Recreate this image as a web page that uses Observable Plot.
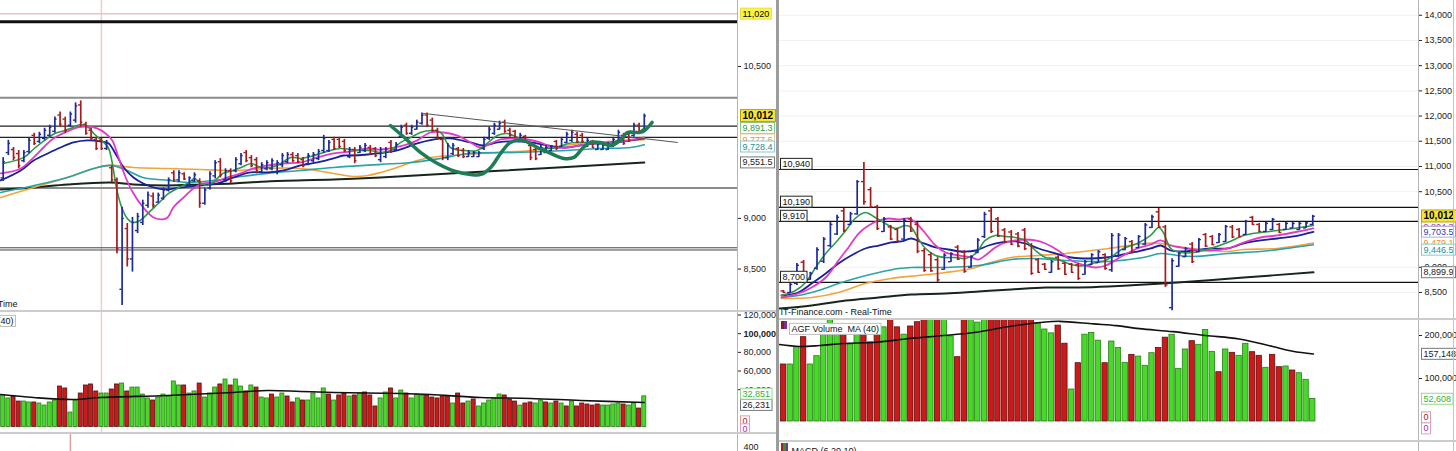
<!DOCTYPE html>
<html><head><meta charset="utf-8">
<script src="https://cdn.jsdelivr.net/npm/d3@7"></script>
<script src="https://cdn.jsdelivr.net/npm/@observablehq/plot@0.6"></script>
<style>
html,body{margin:0;padding:0;background:#fff;}
#root{position:relative;width:1456px;height:451px;overflow:hidden;background:#fff;font-family:"Liberation Sans",Arial,sans-serif;}
.panel{position:absolute;overflow:hidden;}
.panel svg{display:block;}
.ln{position:absolute;z-index:5;}
.icon{position:absolute;z-index:6;}
</style></head><body><div id="root"></div>
<script>
// ---------------- DATA ----------------
// Left chart (daily bars), index 1..125
const leftHigh = [9600,9770,9700,9670,9670,9790,9840,9850,9890,9920, 10000,10050,10000,10050,10140,10160,9950,9890,9800,9790, 9770,9520,9400,9110,8950,9010,9050,9180,9260,9250, 9250,9300,9400,9470,9470,9450,9410,9450,9390,9300, 9460,9570,9590,9490,9490,9600,9640,9670,9620,9600, 9550,9570,9590,9570,9640,9650,9650,9640,9600,9640, 9650,9680,9820,9770,9800,9800,9780,9700,9700,9720, 9740,9720,9700,9700,9700,9770,9750,9920,9940,9920, 9970,10040,10040,9990,9890,9800,9740,9740,9700,9690, 9670,9660,9660,9800,9900,9940,9960,9970,9890,9870, 9840,9820,9740,9700,9720,9720,9720,9770,9800,9850, 9870,9850,9840,9790,9770,9750,9740,9750,9800,9870, 9840,9850,9940,9940,10030];
const leftLow = [9365,9620,9570,9490,9550,9640,9720,9740,9770,9800, 9840,9900,9840,9900,9940,9900,9820,9770,9670,9670, 9670,9355,8650,8140,8520,8470,8850,8930,9100,9100, 9150,9180,9260,9355,9355,9375,9305,9355,9100,9130, 9280,9390,9400,9355,9345,9450,9520,9550,9500,9440, 9440,9470,9470,9430,9500,9540,9550,9540,9500,9520, 9550,9570,9640,9650,9670,9690,9650,9590,9540,9640, 9650,9620,9600,9550,9590,9640,9670,9790,9820,9820, 9870,9920,9900,9850,9770,9570,9570,9620,9600,9590, 9600,9600,9600,9670,9770,9820,9870,9840,9800,9790, 9750,9740,9570,9570,9620,9640,9660,9670,9700,9740, 9750,9740,9740,9700,9690,9670,9670,9670,9700,9740, 9720,9750,9800,9840,9850];
const leftOpen = [9400,9650,9680,9640,9570,9660,9820,9760,9790,9820, 9860,10020,9980,9920,9970,10120,9930,9870,9780,9770, 9690,9500,9380,8300,8900,8600,8880,8960,9130,9220, 9160,9200,9280,9450,9380,9440,9330,9370,9370,9150, 9300,9420,9560,9380,9470,9470,9540,9650,9600,9580, 9460,9490,9490,9460,9530,9560,9630,9620,9580,9540, 9570,9590,9670,9670,9780,9780,9760,9610,9680,9650, 9670,9700,9690,9580,9610,9750,9680,9810,9920,9840, 9880,9940,10020,9970,9870,9780,9600,9640,9690,9670, 9610,9610,9610,9690,9790,9840,9880,9950,9870,9860, 9760,9810,9720,9680,9630,9650,9670,9760,9710,9750, 9770,9830,9820,9710,9760,9680,9680,9680,9710,9760, 9820,9830,9820,9920,9870];
const leftClose = [9560,9740,9600,9520,9650,9770,9740,9830,9870,9900, 9980,9930,9870,10030,10110,9950,9840,9790,9690,9690, 9750,9380,8700,9000,8600,8960,9020,9150,9230,9130, 9230,9280,9380,9380,9450,9390,9400,9430,9150,9280, 9440,9550,9430,9470,9370,9580,9620,9570,9520,9470, 9530,9550,9570,9550,9620,9630,9570,9560,9520,9620, 9630,9660,9790,9750,9690,9710,9670,9680,9570,9700, 9720,9640,9620,9680,9680,9660,9730,9900,9840,9900, 9950,10020,9920,9870,9790,9600,9720,9720,9620,9610, 9650,9650,9650,9780,9880,9920,9940,9860,9820,9800, 9820,9760,9600,9590,9700,9700,9710,9690,9780,9830, 9850,9760,9760,9770,9700,9730,9720,9730,9780,9850, 9740,9770,9920,9860,10012];
const leftVol = [33800,30600,32700,27300,27300,26300,26300,25200,23000,26300, 28400,43400,41300,15500,28400,35900,44500,45600,38100,35900, 35900,40200,45600,46600,38100,42300,42300,34800,30600,28400, 31600,34800,32700,48800,44500,44500,35900,38100,46600,31600, 35900,42300,45600,50900,44500,50900,43400,38100,44500,42300, 31600,30600,34800,31600,35900,32700,26300,30600,28400,28400, 35900,30600,41300,34800,28400,33800,35900,32700,33800,35900, 37000,33800,22000,30600,37000,41300,30600,39100,35900,30600, 34800,33800,33800,31600,30600,32700,32700,25200,35900,25200, 27300,29500,22000,25200,28400,30600,34800,33800,29500,27300, 23000,25200,26300,25200,28400,26300,25200,27300,25200,22000, 27300,22000,25200,24100,23000,24100,23000,23000,24100,25200, 24100,23000,25200,19800,32851];
const leftVolDir = "ggrrggrggg"+"grrggrrrrg"+"grrgrggggr"+"gggggrggrg"+"ggrgrggrgr"+"ggrggrrgrg"+"gggrgrrgrg"+"rrrggrggrg"+"ggrrrrrgrr"+"grgggggrrr"+"grrggrgrgr"+"grrrrrgggg"+"rggrg";
// moving averages [bar index, value]
const leftMAgreen = [[1,9542],[5,9602],[7,9690],[9,9770],[11,9838],[13,9868],[14.5,9898],[16,9927],[17.5,9898],[18.5,9838],[20,9770],[21.3,9700],[22,9572],[23,9276],[24,9098],[25,9000],[26,8960],[27.5,8980],[29,9049],[31,9147],[33,9246],[35,9305],[37,9355],[38,9394],[39,9355],[40.5,9325],[42,9375],[43.5,9444],[45.5,9473],[47,9503],[49,9542],[50.8,9503],[54,9523],[56.6,9602],[58.5,9592],[60.5,9612],[62.4,9641],[64.3,9671],[66.2,9690],[68.2,9680],[70.1,9671],[72,9671],[74,9651],[75.9,9671],[77.9,9750],[79.8,9799],[81.7,9848],[83.7,9868],[85.6,9848],[87.5,9700],[90,9671],[92.7,9671],[94.6,9740],[96.6,9818],[98.5,9838],[100.5,9799],[102.4,9750],[104.4,9700],[106.3,9690],[108.2,9700],[110.2,9740],[112.1,9750],[114,9750],[116,9740],[117.9,9730],[119.8,9770],[121.8,9838],[123.7,9848],[125,9891]];
const leftMAmagenta = [[0.5,9444],[4.4,9493],[6.9,9602],[8.8,9700],[10.7,9789],[13.4,9858],[15.4,9898],[17.3,9907],[19.2,9888],[20.8,9838],[22.1,9770],[23.3,9602],[24.7,9404],[26.2,9246],[28.1,9108],[30.1,9009],[31.8,8990],[32.8,9009],[33.9,9108],[35.9,9207],[37.8,9296],[39.7,9345],[41.7,9355],[44.4,9404],[46.9,9444],[49.4,9493],[52.1,9523],[55.2,9542],[58.5,9552],[61.8,9602],[64.9,9641],[68.2,9661],[71.5,9690],[74,9680],[78.5,9720],[81.1,9770],[83.6,9848],[86.2,9848],[88.9,9818],[91.4,9750],[93.3,9700],[95.3,9740],[97.2,9779],[99.7,9789],[102.4,9779],[104.9,9750],[107.4,9700],[110.2,9700],[112.7,9720],[115.2,9740],[117.9,9750],[120.4,9760],[122.9,9779],[125,9799]];
const leftMAblue = [[0.5,9375],[4.4,9473],[6.9,9572],[9.6,9641],[12.1,9700],[14.6,9750],[17.3,9770],[19.8,9760],[21.4,9740],[22.7,9641],[24.3,9503],[26.2,9404],[28.1,9345],[30.8,9296],[32.8,9286],[35.3,9305],[39.2,9325],[42.5,9345],[45.5,9404],[48.8,9454],[52.1,9454],[55.2,9473],[58.5,9523],[61.8,9552],[64.9,9592],[66.8,9621],[68.2,9621],[71.5,9631],[73.4,9641],[77.2,9671],[81.1,9740],[85.6,9789],[87.5,9789],[91.4,9750],[93.9,9720],[96.6,9750],[99.7,9760],[103,9750],[106.3,9720],[109.4,9700],[112.7,9720],[116,9740],[119.1,9750],[122.4,9770],[125,9789]];
const leftMAteal = [[0.5,9256],[7,9325],[13.4,9404],[18.5,9493],[21.8,9523],[25,9473],[28,9404],[33,9375],[36.6,9355],[41.7,9375],[47,9414],[52,9444],[58.5,9473],[65,9503],[74,9533],[80,9552],[85.6,9592],[91,9641],[100,9651],[110,9671],[116,9690],[122.4,9700],[125,9728]];
const leftMAorange = [[0.5,9207],[6.9,9305],[13.4,9404],[18.5,9493],[21.8,9523],[26.2,9503],[32.8,9493],[39.2,9483],[45.5,9473],[52.1,9493],[58.5,9493],[64.9,9444],[68.8,9414],[71.5,9424],[74,9454],[77.2,9503],[81.1,9572],[83.6,9602],[90,9631],[96.6,9651],[103,9671],[109.4,9720],[116,9750],[122.4,9770],[125,9778]];
const leftMAblack = [[0.5,9286],[6.9,9305],[13.4,9335],[21.8,9355],[26.2,9335],[32.8,9325],[39.2,9335],[45.5,9345],[52.1,9365],[64.9,9384],[74,9404],[97.8,9473],[125,9551]];
const leftOscillator = [[75.9,9917],[78.8,9789],[81.7,9651],[85,9542],[88.5,9463],[91.4,9434],[93.4,9434],[95.3,9503],[97.2,9641],[99.1,9750],[101.6,9770],[104.3,9700],[106.9,9641],[109.4,9592],[111.4,9602],[113.2,9700],[114.6,9750],[116.5,9750],[118.4,9720],[120.4,9770],[121.7,9848],[123.7,9848],[124.8,9858],[126.5,9947]];
const leftTrend = [[82.3,10036],[131.4,9750]];
const leftVolMA = [[0.5,34800],[6.9,31600],[14.6,29500],[19.8,31600],[32.8,33800],[45.5,37000],[52.1,39100],[58.5,38100],[64.9,37000],[77.8,35900],[83.6,34800],[93.4,31600],[103,30600],[112.7,28400],[125,26231]];
const leftAlert = [11020];
const leftHeavy = [10940];
const leftGrey = [10190, 9300];
const leftThin = [9910, 9800];
const leftDouble = [8700];
const crosshairBar = 20;
const macdCrosshairBar = 14;
const leftPriceTicks = [10500, 9000, 8500];
const leftVolTicks = [120000, 100000, 80000, 60000, 40000];
const macdTick = ["400"];
const leftPriceTags = [{key:"blue",v:9838.9},{key:"green",v:9891.3},{key:"orange",v:9777.6},{key:"teal",v:9728.4},{key:"black",v:9551.5},{key:"alert",v:11020},{key:"last",v:10012}];
const leftVolTags = [{key:"zred",v:0},{key:"zpurple",v:0},{key:"vblackL",v:26231},{key:"vgreenL",v:32851}];

// Right chart (weekly bars), index 1..80
const rightHigh = [8540,8680,9075,9135,8900,9390,9590,9890,10030,10170, 10090,10720,11080,10580,10230,9990,9830,9770,9970,9990, 9890,9370,9290,9190,9270,9290,9430,9330,9230,9570, 10090,10170,9990,9770,9730,9690,9770,9470,9170,9075, 9135,9230,9095,9075,9075,9135,9270,9330,9270,9670, 9670,9590,9530,9630,9870,10030,10170,9830,9170,9290, 9390,9490,9570,9670,9630,9670,9830,9830,9770,9930, 10010,9870,9890,9970,9870,9890,9890,9890,9890,10030];
const rightLow = [8480,8480,8640,8877,8740,8940,9075,9390,9630,9690, 9830,10030,10230,10170,9730,9690,9530,9490,9530,9690, 9270,8900,8900,8700,8940,9095,9135,8880,8980,9270, 9570,9670,9590,9470,9430,9390,9330,8840,8880,8940, 8880,8940,8840,8880,8740,8840,9035,9075,8940,8900, 9190,9330,9270,9370,9430,9770,9770,8600,8140,9000, 9190,9075,9290,9390,9430,9470,9490,9570,9590,9630, 9830,9690,9690,9730,9670,9730,9770,9730,9770,9830];
const rightOpen = [8530,8500,8680,9100,8760,8980,9120,9430,9660,10120, 9850,10060,10700,10540,10200,9710,9800,9750,9560,9960, 9850,9330,9250,9150,8960,9110,9400,9300,9000,9300, 9610,10120,9960,9740,9700,9660,9740,9430,9150,9060, 8900,9200,9080,9060,9050,8860,9050,9090,9250,8950, 9220,9350,9510,9390,9460,9790,10100,9800,8200,9020, 9210,9460,9310,9650,9610,9490,9510,9800,9750,9650, 9990,9850,9710,9750,9850,9750,9780,9750,9780,9850];
const rightClose = [8500,8660,9040,8900,8880,9350,9560,9850,9990,9730, 10060,10700,10300,10200,9770,9960,9560,9520,9930,9720, 9320,8940,8930,8750,9240,9270,9160,8920,9210,9540, 10050,9710,9620,9500,9460,9420,9370,8880,8900,8960, 9110,8970,8860,8900,8780,9110,9250,9310,8980,9630, 9640,9570,9300,9610,9840,10000,9800,8650,9130,9270, 9370,9110,9550,9420,9450,9650,9810,9600,9610,9910, 9850,9710,9870,9950,9690,9870,9870,9870,9880,10012];
const rightVol = [132600,132600,172800,196100,132600,151900,205400,250000,205000,205000, 179000,205000,205000,184000,205000,219000,250000,219000,202000,221000, 231000,260000,250000,270000,250000,198000,149600,260000,250000,230000, 260000,270000,260000,255000,240000,260000,265000,270000,228000,214000, 205000,223000,181000,74400,135600,202000,206000,188000,135600,186000, 171000,136500,155000,151000,129500,158900,171000,195000,201700,122600, 167500,186800,178400,213000,162000,114700,167500,159800,152800,180700, 161200,152800,124900,155100,126300,127900,118600,112300,97000,52608];
const rightVolDir = "rggrgggggr"+"ggrrrgrrgr"+"rrgrggrrgg"+"grrrrrrrgg"+"grrgrgggrg"+"ggrgggrrgg"+"grgggrgrgg"+"rrgrrgrggg";
const rightMAgreen = [[0.7,8440],[2.8,8540],[4.3,8698],[5.8,8996],[7.3,9274],[8.8,9492],[10.3,9730],[11.7,9968],[13.2,10087],[14.7,9988],[16.2,9869],[17.7,9770],[19.2,9829],[20.1,9789],[21.1,9571],[22.2,9373],[23.7,9234],[25.2,9194],[26.7,9194],[28.2,9174],[29.7,9274],[31.1,9532],[32.6,9631],[34.1,9611],[35.6,9591],[37.1,9532],[38.6,9333],[40.1,9194],[41.6,9174],[43.1,9095],[44.6,9035],[46.1,9035],[47.6,9095],[49.1,9135],[51.7,9373],[53.8,9472],[55.8,9631],[57,9789],[57.7,9690],[58.8,9373],[60.3,9293],[62.2,9293],[64.7,9373],[67.3,9492],[69.7,9631],[72.2,9690],[74.7,9730],[77.1,9770],[80.1,9829]];
const rightMAmagenta = [[0.7,8401],[3.2,8480],[5.2,8599],[7.3,8797],[9.2,9135],[10.7,9393],[12.2,9670],[13.7,9829],[15.2,9928],[16.7,9968],[18.2,9948],[19.7,9968],[20.7,9889],[22.2,9670],[23.7,9432],[25.2,9293],[27.1,9234],[29.1,9194],[30.1,9154],[31.1,9234],[32.6,9393],[34.1,9492],[35.6,9532],[37.1,9551],[38.6,9532],[40.1,9472],[42,9333],[44,9135],[46.1,9035],[47.6,8996],[49.1,9035],[51.7,9234],[53.8,9373],[55.8,9452],[57.3,9532],[58.8,9432],[60.3,9393],[62.2,9353],[64.7,9333],[67.3,9373],[69.7,9492],[72.2,9591],[74.7,9631],[77.1,9690],[80.1,9770]];
const rightMAblue = [[0.7,8440],[3.2,8500],[5.2,8678],[7.3,8877],[9.2,9075],[11.1,9234],[13.2,9373],[15.2,9432],[17.1,9492],[18.6,9512],[20.1,9571],[21.6,9492],[23.7,9393],[25.6,9353],[27.6,9313],[29.7,9333],[31.6,9432],[33.5,9492],[35.6,9512],[37.1,9472],[39.1,9373],[41.6,9274],[44,9194],[46.5,9174],[49.1,9194],[51.7,9254],[53.8,9313],[55.8,9373],[57.3,9432],[58.8,9333],[60.7,9313],[64.7,9373],[67.3,9373],[69.7,9472],[72.2,9532],[74.7,9571],[77.1,9611],[80.1,9703]];
const rightMAteal = [[0.7,8401],[3.2,8440],[6.2,8540],[9.2,8678],[12.2,8797],[15.2,8897],[18.2,8976],[20.1,8996],[25.2,8996],[30.1,9035],[35,9154],[38,9174],[43.1,9135],[47.6,9115],[49.5,9115],[54.7,9194],[57.3,9274],[59.8,9234],[62.2,9214],[67.3,9274],[72.2,9313],[77.1,9393],[80.1,9447]];
const rightMAorange = [[0.7,8381],[5.2,8401],[9.2,8500],[13.2,8678],[17.1,8778],[21.1,8837],[25.2,8897],[29.1,8976],[32,9095],[35,9194],[39.1,9234],[43.1,9274],[47,9333],[49.5,9373],[54.7,9472],[57.3,9472],[59.8,9412],[64.7,9333],[67.3,9313],[69.7,9353],[74.7,9373],[80.1,9479]];
const rightMAblack = [[0.4,8182],[5.2,8242],[10.3,8341],[15.2,8401],[20.1,8460],[25.2,8480],[30.1,8520],[35,8559],[40.1,8599],[45,8599],[49.5,8619],[59.8,8698],[69.7,8797],[80.1,8900]];
const rightVolMA = [[0.4,179000],[3.4,174500],[6.4,176800],[9.9,181400],[14.9,184400],[19.8,193000],[24.9,200000],[29.8,207700],[34.7,221000],[39.8,231000],[42.2,233000],[47.3,227000],[50.7,223000],[54.1,216000],[59.1,209000],[64,200000],[69,192000],[74,174500],[77,163500],[80.1,157148]];
const rightLevels = [10940, 10190, 9910, 8700];
const rightPriceTicks = [14000,13500,13000,12500,12000,11500,11000,10500,9000,8500];
const rightVolTicks = [200000, 100000];
const rightPriceTags = [{key:"magenta",v:9804.3},{key:"blue",v:9703.5},{key:"orange",v:9479.1},{key:"tealR",v:9446.5},{key:"black",v:8899.9},{key:"last",v:10012}];
const rightVolTags = [{key:"zredR",v:0},{key:"zpurpleR",v:0},{key:"vblack",v:157148},{key:"vgreen",v:52608}];

const feedLabel = ["IT-Finance.com - Real-Time"];
const volLegend = ["AGF Volume  MA (40)"];
const macdLegend = ["MACD (6,20,10)"];

// ---------------- STYLES ----------------
const C = {up:"#1c2a9c", down:"#a51b1b", green:"#2f9a46", magenta:"#e33ac6", blue:"#18209a", teal:"#2aa3a8", orange:"#f2a43a", black:"#15261a", osc:"#1d7d55",
  vgFill:"#47d82a", vgStroke:"#2a7e18", vrFill:"#cc1a1a", vrStroke:"#5c0f0f"};
const tagStyle = {
  last:{color:"#000",bg:"#f6e43a",border:"#b3a300",bold:true,size:10,fmt:","},
  alert:{color:"#000",bg:"#fbf446",border:"#e8e040",fmt:","},
  green:{color:"#2f9a46",bg:"#fff",border:"#8cc890",fmt:",.1f"},
  blue:{color:"#3a3aa8",bg:"#fff",border:"#9a9ad0",fmt:",.1f"},
  magenta:{color:"#a040b0",bg:"#fff",border:"#d0a0d8",fmt:",.1f"},
  orange:{color:"#e59525",bg:"#fff",border:"#f0c890",fmt:",.1f"},
  teal:{color:"#1e8f95",bg:"#fff",border:"#8cc8cc",fmt:",.1f",dy:2},
  tealR:{color:"#1e8f95",bg:"#fff",border:"#8cc8cc",fmt:",.1f",dy:5},
  black:{color:"#222",bg:"#fff",border:"#777",fmt:",.1f"},
  vgreen:{color:"#3cb02a",bg:"#fff",border:"#9ad890",fmt:","},
  vblack:{color:"#222",bg:"#fff",border:"#777",fmt:","},
  vgreenL:{color:"#3cb02a",bg:"#fff",border:"#9ad890",fmt:",",dy:-2.5},
  vblackL:{color:"#222",bg:"#fff",border:"#777",fmt:",",dy:2.5},
  zred:{color:"#a01818",bg:"#fff",border:"#d8a0a0",fmt:",",dy:-5.5},
  zpurple:{color:"#a030a0",bg:"#fff",border:"#d8a0d8",fmt:",",dy:2.5},
  zredR:{color:"#a01818",bg:"#fff",border:"#d8a0a0",fmt:",",dy:-4},
  zpurpleR:{color:"#a030a0",bg:"#fff",border:"#d8a0d8",fmt:",",dy:7},
  level:{color:"#111",bg:"#fff",border:"#222",fmt:","},
  legend:{color:"#111",bg:"#fff",border:"#bdbdbd"}
};
const baseStyle = {background:"transparent", fontFamily:"Liberation Sans, Arial, sans-serif", fontSize:"9px", color:"#222", overflow:"visible"};
const comma = d3.format(",");

// ---------------- HELPERS ----------------
function rows(h,l,o,c){ return h.map((v,k)=>({i:k+1, high:v, low:l[k], open:o[k], close:c[k]})); }
function volRows(v,dir){ return v.map((x,k)=>({i:k+1, v:x, dir:dir[k]})); }
function ohlc(bars, half){
  const out=[];
  for (const [f,col] of [[d=>d.close>=d.open, C.up],[d=>d.close<d.open, C.down]]) {
    out.push(Plot.ruleX(bars,{filter:f, x:"i", y1:"low", y2:"high", stroke:col, strokeWidth:1.7}));
    out.push(Plot.ruleY(bars,{filter:f, y:"open", x1:d=>d.i-half, x2:"i", stroke:col, strokeWidth:1.4}));
    out.push(Plot.ruleY(bars,{filter:f, y:"close", x1:"i", x2:d=>d.i+half, stroke:col, strokeWidth:1.4}));
  }
  return out;
}
function ma(pts, stroke, w=1.6){ return Plot.line(pts,{x:d=>d[0], y:d=>d[1], curve:"catmull-rom", stroke, strokeWidth:w}); }
function vols(data, half){
  return [
    Plot.rect(data,{filter:d=>d.dir==="g", x1:d=>d.i-half, x2:d=>d.i+half, y1:d=>0, y2:"v", fill:C.vgFill, stroke:C.vgStroke, strokeWidth:0.8}),
    Plot.rect(data,{filter:d=>d.dir==="r", x1:d=>d.i-half, x2:d=>d.i+half, y1:d=>0, y2:"v", fill:C.vrFill, stroke:C.vrStroke, strokeWidth:0.8})
  ];
}
function tags(list){
  return list.map(t=>{
    const s=tagStyle[t.key];
    return Plot.text([t],{y:"v", text:d=>d3.format(s.fmt)(d.v), frameAnchor:"right", textAnchor:"start", dx:5, dy:s.dy||0,
      fill:s.color, fontWeight:s.bold?"bold":"normal", fontSize:s.size||9, ariaLabel:()=>"tag-"+t.key});
  });
}
function boxOne(t, s){
  const b=t.getBBox();
  const r=document.createElementNS("http://www.w3.org/2000/svg","rect");
  r.setAttribute("x",b.x-2); r.setAttribute("y",b.y-0.5);
  r.setAttribute("width",b.width+4); r.setAttribute("height",b.height+1);
  r.setAttribute("fill",s.bg); r.setAttribute("stroke",s.border); r.setAttribute("stroke-width",1);
  const tr=t.getAttribute("transform"); if(tr) r.setAttribute("transform",tr);
  t.parentNode.insertBefore(r,t);
}
function boxes(svg){
  svg.querySelectorAll("[aria-label^='tag-']").forEach(el=>{
    const s=tagStyle[el.getAttribute("aria-label").slice(4)]; if(!s) return;
    if (el.tagName.toLowerCase()==="text") boxOne(el,s);
    else el.querySelectorAll("text").forEach(t=>boxOne(t,s));
  });
}
const root=document.getElementById("root");
function place(svg,left,top,w,h){
  const d=document.createElement("div"); d.className="panel";
  Object.assign(d.style,{left:left+"px",top:top+"px",width:w+"px",height:h+"px"});
  d.appendChild(svg); root.appendChild(d); boxes(svg); return svg;
}
function line(css){ const d=document.createElement("div"); d.className="ln"; Object.assign(d.style,css); root.appendChild(d); }
function icon(css){ const d=document.createElement("div"); d.className="icon"; Object.assign(d.style,css); root.appendChild(d); }

const leftBars = rows(leftHigh,leftLow,leftOpen,leftClose);
const rightBars = rows(rightHigh,rightLow,rightOpen,rightClose);
const leftX = {domain:[0.48,143.03], axis:null};
const rightX = {domain:[0.403,95.78], axis:null};
const yAxis = (domain,ticks,extra={}) => ({domain, axis:"right", ticks, tickFormat:comma, tickSize:3, tickPadding:3, label:null, ...extra});

// ---------------- LEFT PRICE ----------------
place(Plot.plot({
  width:776, height:311, marginLeft:0, marginRight:39, marginTop:0, marginBottom:0,
  x:leftX, y:yAxis([8081,11151], leftPriceTicks), style:baseStyle,
  marks:[
    Plot.ruleX([crosshairBar],{stroke:"#ebd0c8", strokeWidth:1.5}),
    Plot.ruleY(leftAlert,{stroke:"#e8c4c4", strokeWidth:1.5}),
    Plot.ruleY(leftHeavy,{stroke:"#111", strokeWidth:3}),
    Plot.ruleY(leftGrey,{stroke:"#8c8c8c", strokeWidth:2}),
    Plot.ruleY(leftThin,{stroke:"#222", strokeWidth:1.2}),
    Plot.ruleY(leftDouble,{stroke:"#444", strokeWidth:1, dy:-1}),
    Plot.ruleY(leftDouble,{stroke:"#444", strokeWidth:1, dy:1.2}),
    ma(leftMAblack, C.black, 2),
    ma(leftMAorange, C.orange),
    ma(leftMAteal, C.teal),
    ma(leftMAblue, C.blue, 1.8),
    ma(leftMAmagenta, C.magenta, 1.8),
    ma(leftMAgreen, C.green),
    ...ohlc(leftBars, 0.42),
    Plot.line(leftTrend,{x:d=>d[0], y:d=>d[1], stroke:"#555", strokeWidth:1}),
    ma(leftOscillator, C.osc, 3.5),
    Plot.text(feedLabel,{text:d=>d, frameAnchor:"bottom-left", textAnchor:"end", dx:17, dy:-5, fontSize:9, fill:"#111"}),
    ...tags(leftPriceTags)
  ]
}),0,0,776,311);

// ---------------- LEFT VOLUME ----------------
const lvSvg = place(Plot.plot({
  width:776, height:122, marginLeft:0, marginRight:39, marginTop:0, marginBottom:0,
  x:leftX, y:yAxis([-6967,123794], leftVolTicks), style:baseStyle,
  marks:[
    Plot.ruleX([crosshairBar],{stroke:"#ebd0c8", strokeWidth:1.5}),
    ...vols(volRows(leftVol,leftVolDir), 0.39),
    ma(leftVolMA, "#111", 1.6),
    Plot.text(volLegend,{text:d=>d, frameAnchor:"top-left", textAnchor:"end", dx:13, dy:6, fontSize:9, fill:"#111", ariaLabel:()=>"tag-legend"}),
    ...tags(leftVolTags)
  ]
}),0,311,776,122);
lvSvg.querySelectorAll("text").forEach(t=>{ if(t.textContent==="100,000"){ t.setAttribute("font-weight","bold"); t.setAttribute("font-size","9"); } });

// ---------------- LEFT MACD STRIP ----------------
place(Plot.plot({
  width:776, height:18, marginLeft:0, marginRight:39, marginTop:0, marginBottom:0,
  x:leftX, y:{axis:null, domain:[0,1]}, style:baseStyle,
  marks:[
    Plot.ruleX([macdCrosshairBar],{stroke:"#d9a3a3", strokeWidth:1.5}),
    Plot.text(macdTick,{text:d=>d, frameAnchor:"top-right", textAnchor:"start", dx:6, dy:10, fontSize:9, fill:"#222"})
  ]
}),0,433,776,18);

// ---------------- RIGHT PRICE ----------------
place(Plot.plot({
  width:677, height:319, marginLeft:0, marginRight:38, marginTop:0, marginBottom:0,
  x:rightX, y:yAxis([7964,14293], rightPriceTicks), style:baseStyle,
  marks:[
    Plot.ruleY(rightPriceTicks,{stroke:"#f1f1f1", strokeWidth:1}),
    Plot.ruleY(rightLevels,{stroke:"#111", strokeWidth:1.2}),
    ma(rightMAblack, C.black, 2),
    ma(rightMAorange, C.orange),
    ma(rightMAteal, C.teal),
    ma(rightMAblue, C.blue, 1.8),
    ma(rightMAmagenta, C.magenta, 1.8),
    ma(rightMAgreen, C.green),
    ...ohlc(rightBars, 0.38),
    Plot.text(rightLevels,{y:d=>d, text:d=>comma(d), frameAnchor:"left", textAnchor:"start", dx:3, dy:-5.5, fontSize:9, fill:"#111", ariaLabel:()=>"tag-level"}),
    Plot.text(feedLabel,{text:d=>d, frameAnchor:"bottom-left", textAnchor:"start", dx:1, dy:-5, fontSize:9, fill:"#111"}),
    ...tags(rightPriceTags)
  ]
}),779,0,677,319);

// ---------------- RIGHT VOLUME ----------------
place(Plot.plot({
  width:677, height:122, marginLeft:0, marginRight:38, marginTop:0, marginBottom:0,
  x:rightX, y:yAxis([-46520,237252], rightVolTicks, {clamp:true}), style:baseStyle,
  marks:[
    ...vols(volRows(rightVol,rightVolDir), 0.4),
    ma(rightVolMA, "#111", 1.6),
    Plot.text(volLegend,{text:d=>d, frameAnchor:"top-left", textAnchor:"start", dx:12, dy:6, fontSize:9, fill:"#111", ariaLabel:()=>"tag-legend"}),
    ...tags(rightVolTags)
  ]
}),779,319,677,122);

// ---------------- RIGHT MACD STRIP ----------------
place(Plot.plot({
  width:677, height:10, marginLeft:0, marginRight:38, marginTop:0, marginBottom:0,
  x:rightX, y:{axis:null, domain:[0,1]}, style:baseStyle,
  marks:[ Plot.text(macdLegend,{text:d=>d, frameAnchor:"top-left", textAnchor:"start", dx:12, dy:6, fontSize:9, fill:"#111"}) ]
}),779,441,677,10);

// ---------------- FRAME LINES ----------------
line({left:"737px", top:"0", width:"1px", height:"451px", background:"#b4b4b4"});
line({left:"776px", top:"0", width:"3px", height:"451px", background:"#9c9c9c"});
line({left:"1418px", top:"0", width:"1px", height:"451px", background:"#b4b4b4"});
line({left:"1453px", top:"0", width:"1px", height:"451px", background:"#c4c4c4"});
line({left:"0", top:"310px", width:"776px", height:"2px", background:"#cccccc"});
line({left:"0", top:"432px", width:"776px", height:"2px", background:"#cccccc"});
line({left:"779px", top:"318px", width:"677px", height:"2px", background:"#cccccc"});
line({left:"779px", top:"440px", width:"677px", height:"2px", background:"#cccccc"});
icon({left:"781px", top:"321px", width:"6px", height:"8px", background:"linear-gradient(to right,#8b1a1a 50%,#7a2ea0 50%)"});
icon({left:"781px", top:"443px", width:"7px", height:"8px", background:"linear-gradient(to right,#b01a1a 33%,#2a9a2a 33%,#2a9a2a 66%,#7a2ea0 66%)"});
</script></body></html>
